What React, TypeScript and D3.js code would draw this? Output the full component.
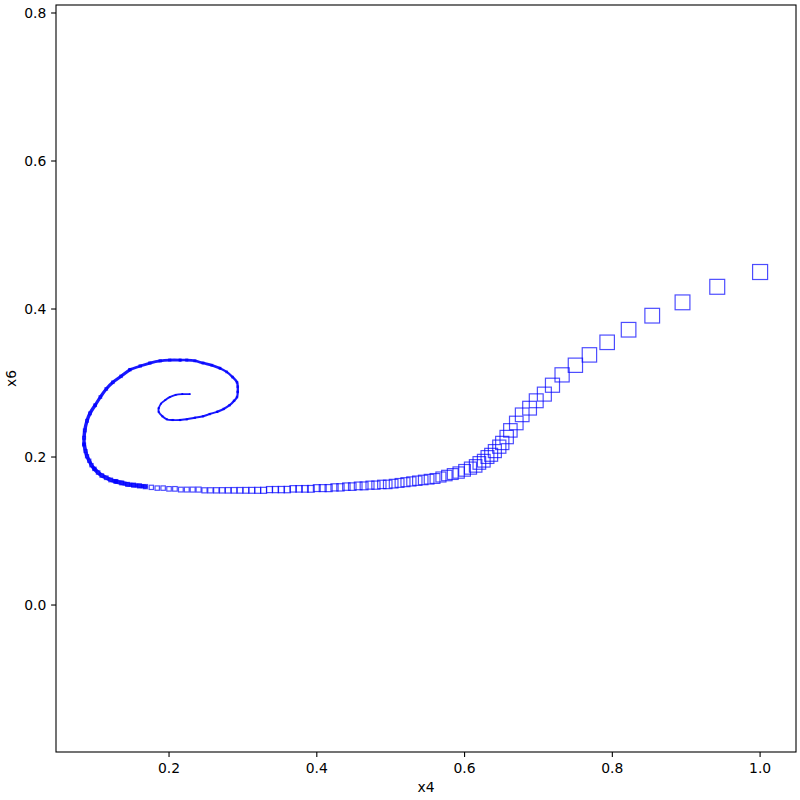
import React from "react";
import * as d3 from "d3";

const x4Values: number[] = [
  1.000, 0.942, 0.895, 0.854, 0.822, 0.793, 0.769, 0.750, 0.732, 0.719,
  0.708, 0.697, 0.688, 0.678, 0.670, 0.662, 0.657, 0.651, 0.647, 0.641,
  0.636, 0.631, 0.626, 0.620, 0.615,
  0.608, 0.600, 0.592, 0.584, 0.576, 0.568, 0.560, 0.552, 0.544, 0.536,
  0.528, 0.520, 0.512, 0.504, 0.496, 0.488, 0.480, 0.472, 0.464, 0.456,
  0.448, 0.440, 0.432, 0.424, 0.416, 0.408, 0.400, 0.392, 0.384, 0.376,
  0.368, 0.360, 0.352, 0.344, 0.336, 0.328, 0.320, 0.312, 0.304, 0.296,
  0.288, 0.280, 0.272, 0.264, 0.256, 0.248, 0.240, 0.232, 0.224, 0.216,
  0.208, 0.200, 0.192, 0.184, 0.176, 0.168, 0.160, 0.152, 0.144, 0.136,
  0.128, 0.121, 0.115, 0.109, 0.104, 0.099, 0.095, 0.092, 0.089, 0.087,
  0.085, 0.085, 0.086, 0.089, 0.093, 0.100, 0.107, 0.115, 0.124, 0.135,
  0.147, 0.161, 0.174, 0.188, 0.201, 0.215, 0.224, 0.235, 0.246, 0.258,
  0.269, 0.278, 0.286, 0.292, 0.293, 0.293, 0.292, 0.288, 0.282, 0.274,
  0.265, 0.255, 0.246, 0.235, 0.224, 0.215, 0.205, 0.197, 0.191, 0.186,
  0.186, 0.189, 0.195, 0.201, 0.209, 0.218, 0.228,
];

const x6Values: number[] = [
  0.450, 0.430, 0.409, 0.391, 0.372, 0.355, 0.338, 0.324, 0.311, 0.297,
  0.285, 0.276, 0.266, 0.257, 0.246, 0.236, 0.227, 0.219, 0.214, 0.208,
  0.203, 0.200, 0.195, 0.192, 0.188,
  0.185, 0.182, 0.179, 0.177, 0.175, 0.173, 0.171, 0.170, 0.169, 0.168,
  0.167, 0.166, 0.165, 0.164, 0.163, 0.163, 0.162, 0.162, 0.161, 0.161,
  0.160, 0.160, 0.159, 0.159, 0.158, 0.158, 0.158, 0.157, 0.157, 0.157,
  0.157, 0.156, 0.156, 0.156, 0.156, 0.155, 0.155, 0.155, 0.155, 0.155,
  0.155, 0.155, 0.155, 0.155, 0.155, 0.155, 0.156, 0.156, 0.156, 0.156,
  0.157, 0.157, 0.158, 0.158, 0.159, 0.160, 0.161, 0.162, 0.163, 0.165,
  0.167, 0.169, 0.172, 0.175, 0.179, 0.184, 0.189, 0.195, 0.201, 0.208,
  0.217, 0.226, 0.236, 0.249, 0.259, 0.270, 0.281, 0.292, 0.301, 0.309,
  0.318, 0.323, 0.327, 0.330, 0.331, 0.331, 0.331, 0.330, 0.327, 0.324,
  0.320, 0.315, 0.308, 0.301, 0.295, 0.288, 0.281, 0.276, 0.270, 0.265,
  0.261, 0.258, 0.255, 0.253, 0.251, 0.250, 0.250, 0.251, 0.255, 0.261,
  0.266, 0.272, 0.277, 0.281, 0.284, 0.285, 0.285,
];

const xTicks = [0.2, 0.4, 0.6, 0.8, 1.0];
const yTicks = [0.0, 0.2, 0.4, 0.6, 0.8];
const xLabel = "x4";
const yLabel = "x6";

const W = 800;
const H = 800;
const M = { left: 56, right: 796, top: 5, bottom: 752 };
const FONT = "DejaVu Sans, sans-serif";

export default function App() {
  const x = d3.scaleLinear().domain([0.047, 1.0486]).range([M.left, M.right]);
  const y = d3.scaleLinear().domain([-0.1986, 0.8108]).range([M.bottom, M.top]);
  const n = x4Values.length;
  const pts = x4Values.map((v, i) => ({ x: x(v), y: y(x6Values[i]), i }));
  const size = d3
    .scaleLinear()
    .domain([0, 24, 30, 45, 54, 66, 76, 94, 118, n - 1])
    .range([15, 12.5, 10, 7.5, 6.5, 5.5, 4.5, 3, 1.4, 0.6])
    .clamp(true);

  const line = d3
    .line<{ x: number; y: number }>()
    .x((d) => d.x)
    .y((d) => d.y)
    .curve(d3.curveCatmullRom);

  const chunks: { d: string; w: number }[] = [];
  const start = 80;
  const step = 5;
  for (let s = start; s < n - 1; s += step) {
    const e = Math.min(n - 1, s + step);
    const mid = (s + e) / 2;
    chunks.push({ d: line(pts.slice(s, e + 1)) || "", w: Math.max(1.8, size(mid) * 0.8 + 1.2) });
  }

  return (
    <svg
      width={W}
      height={H}
      style={{ position: "absolute", left: 0, top: 0, background: "#fff" }}
      fontFamily={FONT}
    >
      <rect x={0} y={0} width={W} height={H} fill="#fff" />
      <defs>
        <clipPath id="plotclip">
          <rect x={M.left} y={M.top} width={M.right - M.left} height={M.bottom - M.top} />
        </clipPath>
      </defs>
      <g clipPath="url(#plotclip)">
        {chunks.map((c, k) => (
          <path
            key={"c" + k}
            d={c.d}
            fill="none"
            stroke="#0000ff"
            strokeOpacity={0.9}
            strokeWidth={c.w}
            strokeLinecap="round"
            strokeLinejoin="round"
          />
        ))}
        {pts.map((p) => {
          const s = size(p.i);
          return (
            <rect
              key={p.i}
              x={p.x - s / 2}
              y={p.y - s / 2}
              width={s}
              height={s}
              fill="none"
              stroke="#0000ff"
              strokeOpacity={0.7}
              strokeWidth={1.2}
            />
          );
        })}
      </g>
      <rect
        x={M.left}
        y={M.top}
        width={M.right - M.left}
        height={M.bottom - M.top}
        fill="none"
        stroke="#000"
        strokeWidth={1.1}
      />
      {xTicks.map((t) => (
        <g key={"x" + t} transform={`translate(${x(t)},${M.bottom})`}>
          <line y1={0} y2={4.9} stroke="#000" strokeWidth={1.1} />
          <text y={20.5} textAnchor="middle" fontSize={13.9} fill="#000">
            {t.toFixed(1)}
          </text>
        </g>
      ))}
      {yTicks.map((t) => (
        <g key={"y" + t} transform={`translate(${M.left},${y(t)})`}>
          <line x1={0} x2={-4.9} stroke="#000" strokeWidth={1.1} />
          <text x={-9.7} dy="0.35em" textAnchor="end" fontSize={13.9} fill="#000">
            {t.toFixed(1)}
          </text>
        </g>
      ))}
      <text x={(M.left + M.right) / 2} y={792} textAnchor="middle" fontSize={13.9} fill="#000">
        {xLabel}
      </text>
      <text
        transform={`translate(16,${(M.top + M.bottom) / 2}) rotate(-90)`}
        textAnchor="middle"
        fontSize={13.9}
        fill="#000"
      >
        {yLabel}
      </text>
    </svg>
  );
}
